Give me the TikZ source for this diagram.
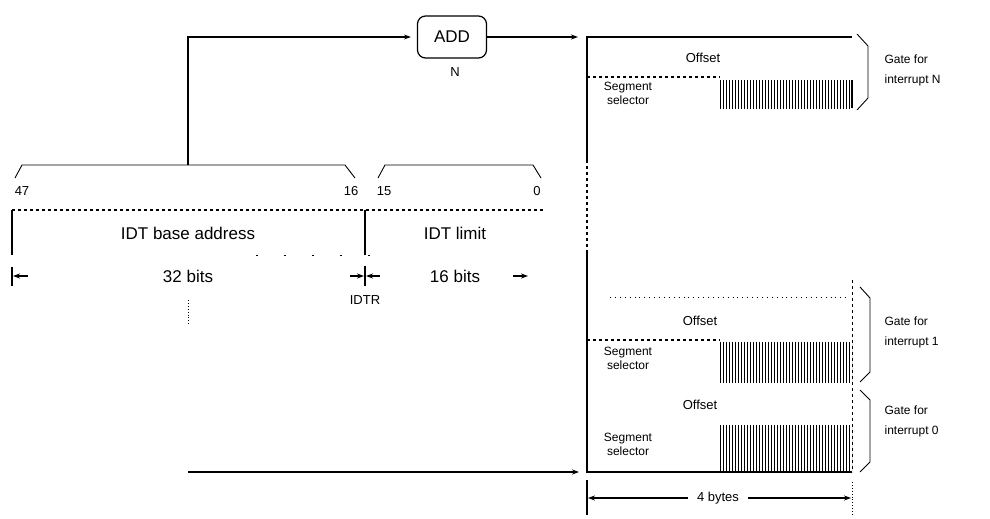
\documentclass[tikz,border=0pt]{standalone}
\usepackage{fontspec}
\setmainfont{Liberation Sans}
\usetikzlibrary{arrows.meta,patterns}
\begin{document}
\begin{tikzpicture}[x=1pt,y=-1pt,line width=1.2pt,
  font=\fontsize{13}{15}\selectfont,
  lbl/.style={inner sep=0pt},
  biglbl/.style={inner sep=0pt,font=\fontsize{17}{19}\selectfont},
  rlbl/.style={inner sep=0pt,anchor=west,align=left,font=\fontsize{12}{20}\selectfont},
  conn/.style={line width=1.2pt,-{Stealth[length=7pt,width=5pt]}},
  thinln/.style={line width=0.9pt},
  hatchbox/.style={pattern=vertical lines,pattern color=black},
  addbox/.style={draw,rounded corners=8pt,minimum width=69pt,minimum height=42pt,inner sep=0pt,font=\fontsize{17}{19}\selectfont}
]
\useasboundingbox (0,0) rectangle (990,519);

% ADD unit
\node[addbox] (add) at (452,37) {ADD};
\node[lbl] (nlbl) at (455,72) {N};
\coordinate (bend) at (188,37);
\coordinate (basetop) at (188,165);
\coordinate (tabletop) at (587,37);
\coordinate (basebot) at (188,472);
\coordinate (tablebot) at (587,472);
\draw[conn,shorten >=6pt] (basetop) -- (bend) -- (add.west);
\draw[conn,shorten >=9pt] (add.east) -- (tabletop);
\draw[conn,shorten >=8pt] (basebot) -- (tablebot);

% IDTR braces and bit numbers
\draw[thinln] (15,178) -- (22,165) -- (345,165) -- (355,178);
\draw[thinln] (378,178) -- (385,165) -- (533,165) -- (541,178);
\node[lbl] (b47) at (22,191) {47};
\node[lbl] (b16) at (351,191) {16};
\node[lbl] (b15) at (384,191) {15};
\node[lbl] (b0) at (537,191) {0};

% IDTR register
\draw[dashed] (12,210) -- (545,210);
\draw (12,210) -- (12,255);
\draw (365,210) -- (365,255);
\draw[thinln,dash pattern=on 2pt off 26pt] (256,255) -- (372,255);
\node[biglbl] (base) at (188,233) {IDT base address};
\node[biglbl] (limit) at (455,233) {IDT limit};

% bit-width dimensions
\node[biglbl] (b32) at (188,276) {32 bits};
\node[biglbl] (bb16) at (455,276) {16 bits};
\draw (12,267) -- (12,286);
\draw (365,266) -- (365,286);
\draw[conn] (28,276) -- (13,276);
\draw[conn] (350,276) -- (364,276);
\draw[conn] (380,276) -- (366,276);
\draw[conn] (513,276) -- (528,276);
\node[lbl] (idtr) at (365,300) {IDTR};
\draw[thinln,dotted] (188,300) -- (188,325);

% IDT table outline
\draw (852,37) -- (587,37) -- (587,160);
\draw[dashed] (587,160) -- (587,253);
\draw (587,253) -- (587,472) -- (852,472);
\draw[thinln,dashed] (852,280) -- (852,472);

% gate N
\node[lbl] (offN) at (703,58) {Offset};
\draw[dashed] (587,77) -- (720,77);
\node[lbl,align=center,font=\fontsize{12}{14}\selectfont] (selN) at (628,93) {Segment\\selector};
\fill[hatchbox] (718,80) rectangle (852,108);
\draw (852,80) -- (852,108);
\draw[thinln] (857,34) -- (868,46) -- (868,98) -- (857,110);
\node[rlbl] (gN) at (884,70) {Gate for\\interrupt N};

% gate 1
\draw[thinln,loosely dotted] (610,297) -- (850,297);
\node[lbl] (off1) at (700,321) {Offset};
\draw[dashed] (587,340) -- (720,340);
\node[lbl,align=center,font=\fontsize{12}{14}\selectfont] (sel1) at (628,358) {Segment\\selector};
\fill[hatchbox] (718,342) rectangle (852,382);
\draw[thinln] (860,287) -- (870,298) -- (870,372) -- (860,382);
\node[rlbl] (g1) at (884,332) {Gate for\\interrupt 1};

% gate 0
\node[lbl] (off0) at (700,405) {Offset};
\node[lbl,align=center,font=\fontsize{12}{14}\selectfont] (sel0) at (628,444) {Segment\\selector};
\fill[hatchbox] (718,425) rectangle (852,470);
\draw[thinln] (860,390) -- (870,400) -- (870,462) -- (860,472);
\node[rlbl] (g0) at (884,421) {Gate for\\interrupt 0};

% 4 bytes
\draw (587,480) -- (587,515);
\draw[thinln,dotted] (852,482) -- (852,515);
\node[lbl] (bytes) at (718,498) {4 bytes};
\draw[conn] ([xshift=-8pt]bytes.west) -- (588,498);
\draw[conn] ([xshift=8pt]bytes.east) -- (851,498);
\end{tikzpicture}
\end{document}
